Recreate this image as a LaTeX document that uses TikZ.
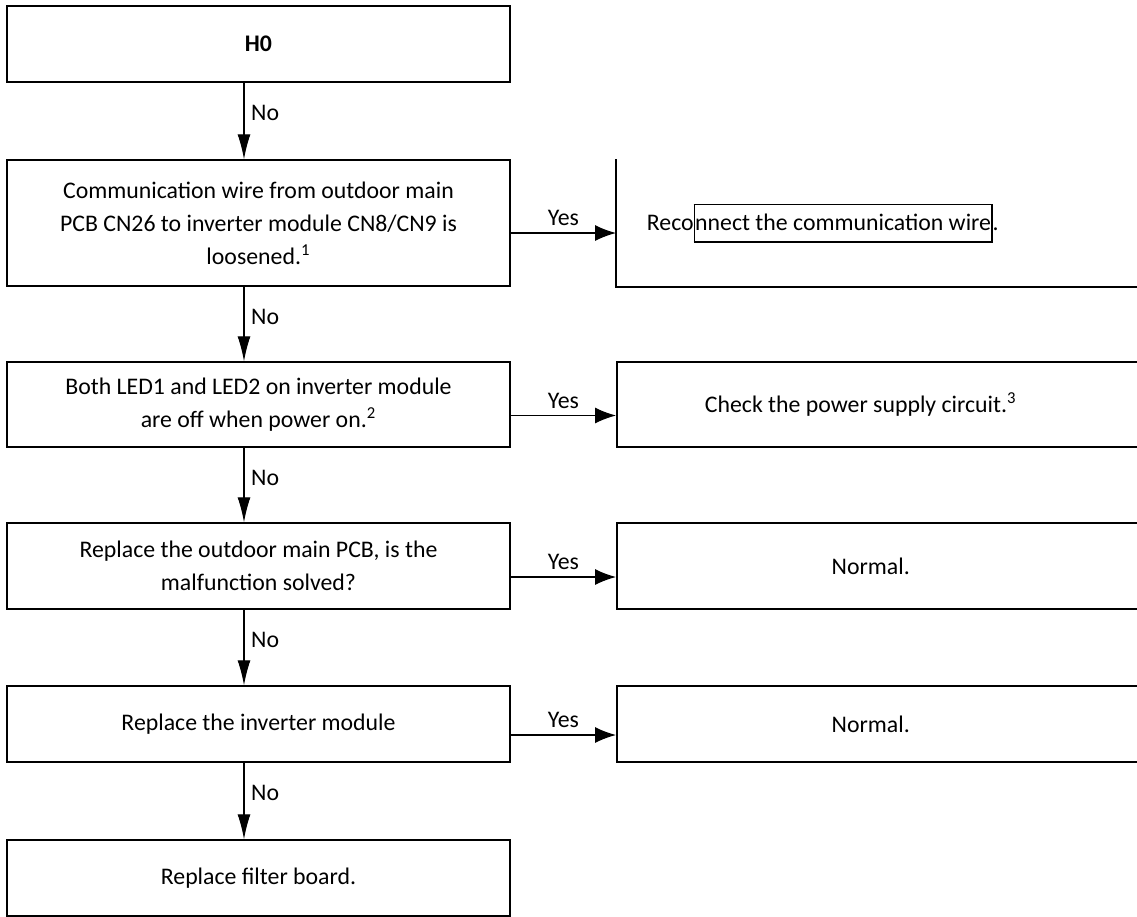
\documentclass[tikz,border=0pt]{standalone}
\usepackage{fontspec}
\setmainfont{Carlito}
\usetikzlibrary{arrows.meta}

\begin{document}
\begin{tikzpicture}[x=0.5pt, y=-0.5pt, every node/.style={font=\fontsize{11.9}{16.5}\selectfont},
	lbox/.style={draw, line width=0.75pt, minimum width=251.5pt, align=center, inner sep=0pt},
	rbox/.style={draw, line width=0.75pt, minimum width=272pt, anchor=west, inner sep=0pt},
	vtip/.style={-{Latex[length=12.5pt, width=6.5pt]}, line width=0.55pt},
	htip/.style={-{Latex[length=10.5pt, width=8pt]}, line width=0.55pt}]
	\useasboundingbox (0,0) rectangle (1137,917);
	\node[lbox, minimum height=38pt] (h0) at (258.5,44) {\textbf{H0}};
	\node[lbox, minimum height=63pt] (wire) at (258.5,223) {Communication wire from outdoor main\\PCB CN26 to inverter module CN8/CN9 is\\loosened.\textsuperscript{1}};
	\node[lbox, minimum height=42.5pt] (led) at (258.5,404.5) {Both LED1 and LED2 on inverter module\\are off when power on.\textsuperscript{2}};
	\node[lbox, minimum height=43pt] (pcb) at (258.5,566) {Replace the outdoor main PCB, is the\\malfunction solved?};
	\node[lbox, minimum height=38pt] (inv) at (258.5,724) {Replace the inverter module};
	\node[lbox, minimum height=38pt] (filter) at (258.5,878) {Replace filter board.};
	\node[rbox, draw=none, minimum height=63pt, label={[xshift=-33pt]center:Reco{\fboxsep=0pt\fboxrule=0.75pt\fbox{\rule[-5.5pt]{0pt}{18pt}nnect the communication wire}}.}] (reconnect) at (616,223) {};
	\draw[line width=0.75pt] (reconnect.north west) -- (reconnect.south west) -- (reconnect.south east);
	\node[rbox, minimum height=42.5pt, label={[xshift=-14pt]center:Check the power supply circuit.\textsuperscript{3}}] (power) at (616,404.5) {};
	\node[rbox, minimum height=43pt, label={[xshift=-9pt]center:Normal.}] (normal1) at (616,566) {};
	\node[rbox, minimum height=38pt, label={[xshift=-9pt]center:Normal.}] (normal2) at (616,724) {};
	\draw[vtip] ([xshift=-7.25pt]h0.south) -- ([xshift=-7.25pt]wire.north) node[pos=0.4, right] {No};
	\draw[vtip] ([xshift=-7.25pt]wire.south) -- ([xshift=-7.25pt]led.north) node[pos=0.4, right] {No};
	\draw[vtip] ([xshift=-7.25pt]led.south) -- ([xshift=-7.25pt]pcb.north) node[pos=0.4, right] {No};
	\draw[vtip] ([xshift=-7.25pt]pcb.south) -- ([xshift=-7.25pt]inv.north) node[pos=0.4, right] {No};
	\draw[vtip] ([xshift=-7.25pt]inv.south) -- ([xshift=-7.25pt]filter.north) node[pos=0.4, right] {No};
	\draw[htip] ([yshift=-5pt]wire.east) -- ([yshift=-5pt]reconnect.west) node[midway, above] {Yes};
	\draw[htip] ([yshift=-5.5pt]led.east) -- ([yshift=-5.5pt]power.west) node[midway, above] {Yes};
	\draw[htip] ([yshift=-5.5pt]pcb.east) -- ([yshift=-5.5pt]normal1.west) node[midway, above] {Yes};
	\draw[htip] ([yshift=-5.5pt]inv.east) -- ([yshift=-5.5pt]normal2.west) node[midway, above] {Yes};
\end{tikzpicture}
\end{document}
